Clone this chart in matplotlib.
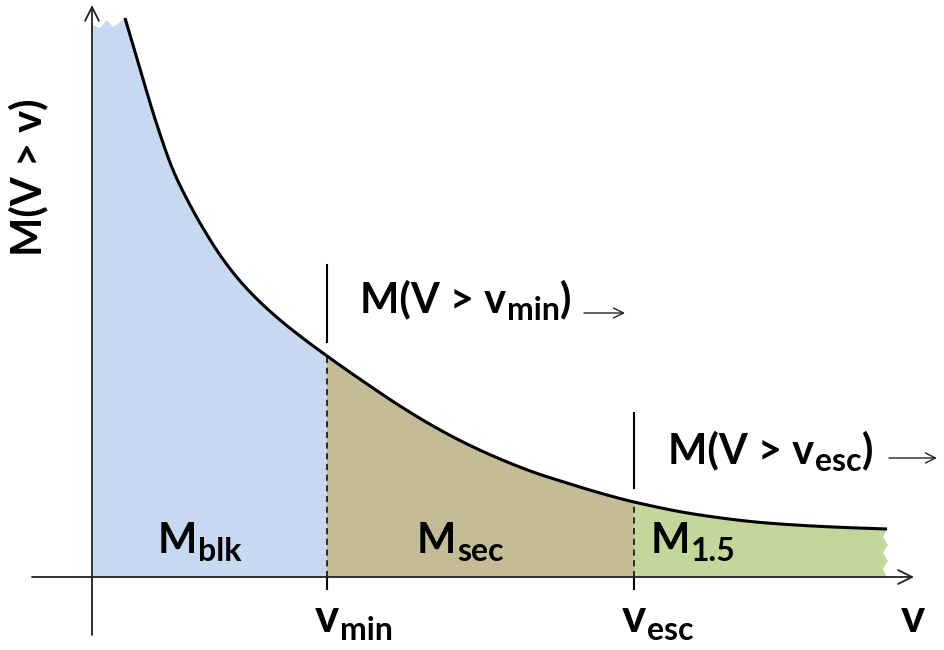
import numpy as np
import matplotlib
matplotlib.use("Agg")
import matplotlib.pyplot as plt

plt.rcParams['font.family'] = ['Lato', 'DejaVu Sans']

# Curve (x: velocity units, y: cumulative mass units)
curve_v = [33, 48, 65, 81, 98, 108, 128, 148, 168, 188, 208, 235, 275, 308,
           341, 375, 408, 441, 475, 508, 542, 608, 675, 741, 795]
curve_m = [559, 508, 452, 407, 372, 354, 322, 296, 275, 257, 241, 221, 193,
           171, 151, 133, 118, 105, 94, 84, 75, 62, 54, 50, 48]
# jagged (cut-off) top of the first region, between the y axis and curve start
cut_top_v = [0, 8, 15, 21, 26, 33]
cut_top_m = [552, 549, 557, 550, 553, 559]
# jagged right edge of the last region
cut_right_v = [795, 791, 796, 791, 796, 791, 795]
cut_right_m = [48, 40, 32, 24, 16, 8, 0]

v_min = 235
v_esc = 542

region_colors = ['#c6d9f1', '#c4bc97', '#c3d69b']


def pchip(x, y, xn):
    x = np.asarray(x, float); y = np.asarray(y, float)
    h = np.diff(x); d = np.diff(y) / h
    n = len(x); m = np.zeros(n)
    for k in range(1, n - 1):
        if d[k - 1] * d[k] > 0:
            w1 = 2 * h[k] + h[k - 1]; w2 = h[k] + 2 * h[k - 1]
            m[k] = (w1 + w2) / (w1 / d[k - 1] + w2 / d[k])
    m[0] = d[0]; m[-1] = d[-1]
    idx = np.clip(np.searchsorted(x, xn) - 1, 0, n - 2)
    t = (xn - x[idx]) / h[idx]
    h00 = 2 * t**3 - 3 * t**2 + 1; h10 = t**3 - 2 * t**2 + t
    h01 = -2 * t**3 + 3 * t**2; h11 = t**3 - t**2
    return (h00 * y[idx] + h10 * h[idx] * m[idx] + h01 * y[idx + 1]
            + h11 * h[idx] * m[idx + 1])


cv = np.array(curve_v, float)
vv = np.linspace(cv[0], cv[-1], 1500)
mm = pchip(curve_v, curve_m, vv)
m_at_min = float(pchip(curve_v, curve_m, np.array([v_min]))[0])
m_at_esc = float(pchip(curve_v, curve_m, np.array([v_esc]))[0])

fig = plt.figure(figsize=(9.44, 6.5), dpi=100)
ax = fig.add_axes([0, 0, 1, 1])
ax.set_xlim(-92, 852)
ax.set_ylim(-73, 577)
ax.axis('off')

# region 1 (bulk)
sel = vv <= v_min
px = list(cut_top_v) + list(vv[sel]) + [v_min, v_min, 0]
py = list(cut_top_m) + list(mm[sel]) + [m_at_min, 0, 0]
ax.fill(px, py, color=region_colors[0], lw=0, zorder=1)
# region 2
sel = (vv >= v_min) & (vv <= v_esc)
px = [v_min] + list(vv[sel]) + [v_esc, v_esc, v_min]
py = [m_at_min] + list(mm[sel]) + [m_at_esc, 0, 0]
ax.fill(px, py, color=region_colors[1], lw=0, zorder=1)
# region 3
sel = vv >= v_esc
px = [v_esc] + list(vv[sel]) + list(cut_right_v) + [v_esc]
py = [m_at_esc] + list(mm[sel]) + list(cut_right_m) + [0]
ax.fill(px, py, color=region_colors[2], lw=0, zorder=1)

# curve
ax.plot(vv, mm, color='black', lw=2.2, zorder=3, solid_capstyle='butt')

# axes with arrows
ax.annotate('', xy=(822, 0), xytext=(-60, 0),
            arrowprops=dict(arrowstyle='->', lw=1.3, color='#222222',
                            mutation_scale=25, shrinkA=0, shrinkB=0), zorder=4)
ax.annotate('', xy=(0, 572), xytext=(0, -58),
            arrowprops=dict(arrowstyle='->', lw=1.3, color='#222222',
                            mutation_scale=25, shrinkA=0, shrinkB=0), zorder=4)

# dashed boundaries and ticks
for vb, top in ((v_min, m_at_min), (v_esc, m_at_esc)):
    ax.plot([vb, vb], [0, top], color='black', lw=1.1, ls=(0, (4, 3)), zorder=2)
    ax.plot([vb, vb], [0, -12], color='black', lw=1.5, zorder=2)
ax.plot([v_min, v_min], [235, 312], color='black', lw=1.5)
ax.plot([v_esc, v_esc], [89, 164], color='black', lw=1.5)


def rich(x, y, parts, ha_first='left', fw='bold'):
    """parts: list of (string, fontsize, baseline shift in points)."""
    s0, f0, d0 = parts[0]
    prev = ax.text(x, y, s0, fontsize=f0, ha=ha_first, va='baseline',
                   fontweight=fw, zorder=5)
    for s, f, d in parts[1:]:
        prev = ax.annotate(s, xy=(1, y), xycoords=(prev, 'data'),
                           xytext=(0.5, d), textcoords='offset points',
                           fontsize=f, ha='left', va='baseline',
                           fontweight=fw, zorder=5)
    return prev


FM = 30     # main size
FS = 23     # subscript size
DS = -6     # subscript shift

# region labels
rich(66, 24, [('M', FM, 0), ('blk', FS, DS)])
rich(325, 24, [('M', FM, 0), ('sec', FS, DS)])
rich(559, 24, [('M', FM, 0), ('1.5', FS, DS)])

# cumulative labels
rich(268, 265, [('M(V > v', FM, 0), ('min', FS, DS), (')', FM, 0)])
ax.annotate('', xy=(533, 264), xytext=(492, 264),
            arrowprops=dict(arrowstyle='->', lw=1.0, color='#222222',
                            mutation_scale=18, shrinkA=0, shrinkB=0))
rich(576, 114, [('M(V > v', FM, 0), ('esc', FS, DS), (')', FM, 0)])
ax.annotate('', xy=(845, 119), xytext=(797, 119),
            arrowprops=dict(arrowstyle='->', lw=1.0, color='#222222',
                            mutation_scale=18, shrinkA=0, shrinkB=0))

# x labels (v centred on its boundary)
FV = 33
rich(v_min, -55, [('v', FV, 0), ('min', FS, DS)], ha_first='center')
rich(v_esc, -55, [('v', FV, 0), ('esc', FS, DS)], ha_first='center')
ax.text(821, -55, 'v', fontsize=FV, ha='center', va='baseline', fontweight='bold')

# y label
ax.text(-64, 400, 'M(V > v)', fontsize=FM, ha='center', va='center',
        rotation=90, fontweight='bold')

fig.savefig('out.png', dpi=100)
